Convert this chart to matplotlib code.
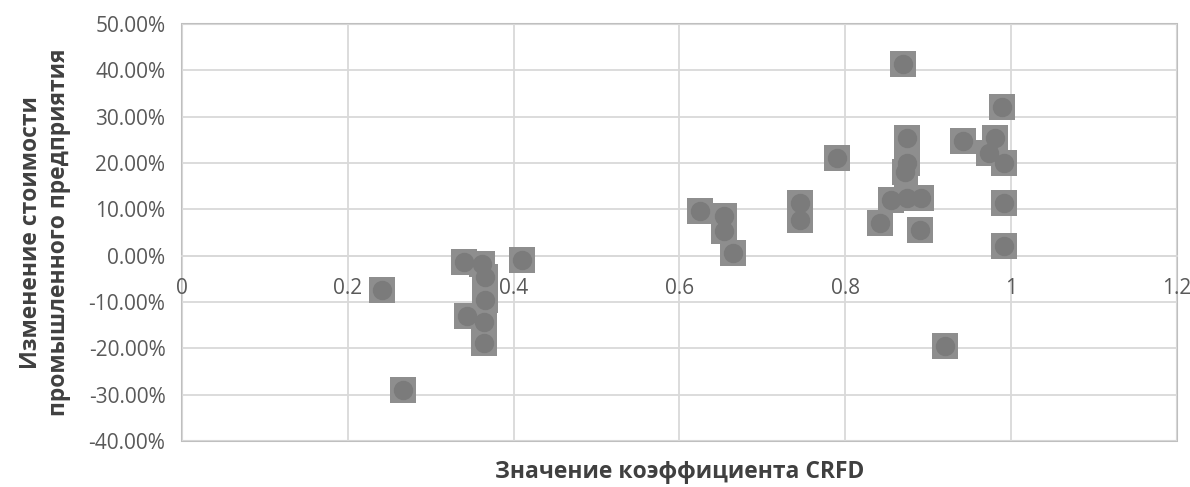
import matplotlib.pyplot as plt
from matplotlib.ticker import FuncFormatter

# CRFD coefficient vs. change in enterprise value
crfd = [0.241, 0.267, 0.340, 0.362, 0.366, 0.366, 0.344, 0.364, 0.364, 0.410,
        0.625, 0.654, 0.654, 0.664, 0.745, 0.745, 0.790,
        0.842, 0.855, 0.870, 0.874, 0.874, 0.872, 0.874, 0.891, 0.890,
        0.920, 0.942, 0.973, 0.980, 0.989, 0.991, 0.991, 0.991]
value_change = [-7.4, -29.0, -1.3, -1.7, -4.5, -9.6, -13.1, -14.3, -18.9, -0.9,
                9.6, 8.5, 5.3, 0.6, 11.4, 7.8, 21.1,
                7.1, 12.1, 41.3, 25.4, 20.0, 18.0, 12.5, 12.5, 5.6,
                -19.4, 24.7, 22.2, 25.4, 32.1, 20.0, 11.4, 2.0]

x_ticks = [0, 0.2, 0.4, 0.6, 0.8, 1.0, 1.2]
x_tick_labels = ['0', '0.2', '0.4', '0.6', '0.8', '1', '1.2']
y_ticks = [-40, -30, -20, -10, 0, 10, 20, 30, 40, 50]

plt.rcParams['font.family'] = ['Open Sans', 'DejaVu Sans']

fig = plt.figure(figsize=(11.9, 4.87), dpi=100)
ax = fig.add_axes([0.153, 0.094, 0.836, 0.857])

grid_col = '#d9d9d9'
ax.scatter(crfd, value_change, marker='s', s=19**2, color='#8e8e8e',
           linewidths=0, zorder=3)
ax.scatter(crfd, value_change, marker='o', s=14**2, color='#7b7b7b',
           linewidths=0, zorder=4)

ax.set_xlim(0, 1.2)
ax.set_ylim(-40, 50)
ax.set_xticks(x_ticks)
ax.set_xticklabels(x_tick_labels)
ax.set_yticks(y_ticks)
ax.yaxis.set_major_formatter(FuncFormatter(lambda v, p: f'{v:.2f}%'))

ax.grid(True, color=grid_col, linewidth=1.3, zorder=0)
ax.set_axisbelow(True)

for side in ['top', 'left', 'right']:
    ax.spines[side].set_visible(False)
ax.spines['bottom'].set_position(('data', 0))
ax.spines['bottom'].set_color(grid_col)
ax.spines['bottom'].set_linewidth(1.3)
ax.patch.set_edgecolor('#bfbfbf')
ax.patch.set_linewidth(1.5)

ax.tick_params(axis='x', length=0, pad=16, labelsize=15, labelcolor='#595959')
ax.tick_params(axis='y', length=0, pad=12, labelsize=15, labelcolor='#595959')

ax.set_xlabel('Значение коэффициента CRFD', fontsize=16.5, fontweight='bold',
              color='#404040')
ax.set_ylabel('Изменение стоимости\nпромышленного предприятия', fontsize=16.5,
              fontweight='bold', color='#404040')
ax.xaxis.set_label_coords(0.5, -0.045)
ax.yaxis.set_label_coords(-0.112, 0.5)

fig.savefig('out.png', dpi=100)
